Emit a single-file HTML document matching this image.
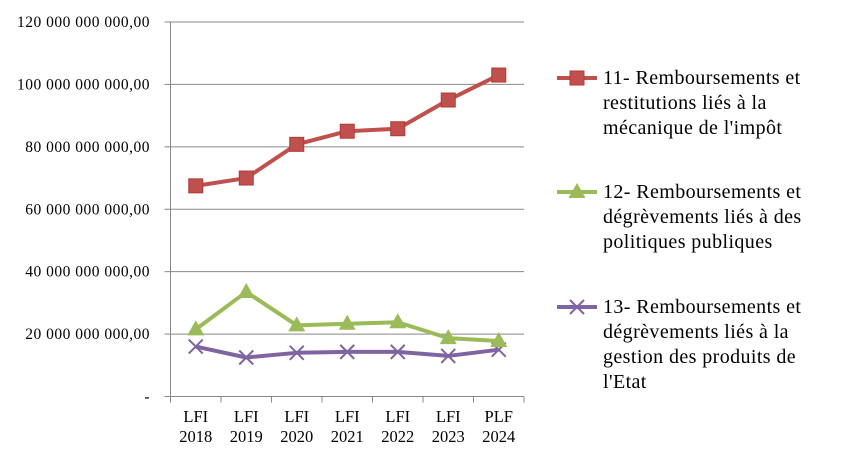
<!DOCTYPE html>
<html><head><meta charset="utf-8"><style>
body{margin:0;background:#fff;}
svg{display:block;font-family:"Liberation Serif",serif;}
</style></head><body>
<svg id="chart" width="842" height="462"></svg>
<script>
const categories=[["LFI","2018"],["LFI","2019"],["LFI","2020"],["LFI","2021"],["LFI","2022"],["LFI","2023"],["PLF","2024"]];
const series11=[67.5,70,80.8,85,85.8,95,103];
const series12=[21.5,33.5,22.8,23.3,23.8,18.7,17.8];
const series13=[16,12.5,14,14.3,14.3,13,15];
const yTicks=[0,20,40,60,80,100,120];
const yTickLabels=["-","20 000 000 000,00","40 000 000 000,00","60 000 000 000,00","80 000 000 000,00","100 000 000 000,00","120 000 000 000,00"];
const legendLabels=[["11- Remboursements et","restitutions liés à la","mécanique de l'impôt"],["12- Remboursements et","dégrèvements liés à des","politiques publiques"],["13- Remboursements et","dégrèvements liés à la","gestion des produits de","l'Etat"]];
const NS="http://www.w3.org/2000/svg",svg=document.getElementById('chart');
const x0=170.5,x1=524,yTop=22,yBot=396.5,bw=(x1-x0)/categories.length;
const X=i=>x0+bw*(i+0.5), Y=v=>yBot-(v/120)*(yBot-yTop);
function el(t,a,p){const e=document.createElementNS(NS,t);for(const k in a)e.setAttribute(k,a[k]);(p||svg).appendChild(e);return e;}
yTicks.forEach((v,i)=>{
 if(v>0){const g=el('line',{x1:x0,x2:x1,y1:Y(v),y2:Y(v),stroke:'#888','stroke-width':1});
 
 }
 const tk=el('line',{x1:x0-6,x2:x0,y1:Y(v),y2:Y(v),stroke:'#888'});
 
 
 const t=el('text',{x:150,y:Y(v)+5,'text-anchor':'end','font-size':15.5,'letter-spacing':0.5,fill:'#000'});
 t.textContent=yTickLabels[i];
 
 
});
const ax=el('line',{x1:x0,x2:x0,y1:yTop,y2:yBot,stroke:'#888'});


const bx=el('line',{x1:x0,x2:x1,y1:yBot,y2:yBot,stroke:'#888'});


for(let i=0;i<=categories.length;i++){const t=el('line',{x1:x0+bw*i,x2:x0+bw*i,y1:yBot,y2:yBot+6,stroke:'#888'});
 
 }
categories.forEach((c,i)=>{c.forEach((s,j)=>{const t=el('text',{x:X(i),y:422+j*20,'text-anchor':'middle','font-size':16.5,fill:'#000'});t.textContent=s;
 
 });});
function marker(type,cx,cy,col,g){
 if(type==='sq') return el('rect',{x:cx-7,y:cy-7,width:14,height:14,fill:col,stroke:'#b03a37','stroke-width':1},g);
 if(type==='tri') return el('polygon',{points:`${cx},${cy-9} ${cx+8.5},${cy+6} ${cx-8.5},${cy+6}`,fill:col},g);
 return el('path',{d:`M${cx-7} ${cy-7}L${cx+7} ${cy+7}M${cx-7} ${cy+7}L${cx+7} ${cy-7}`,stroke:col,'stroke-width':2,fill:'none'},g);
}
const defs=[[series11,'#c0504d','sq','series-11'],[series12,'#9bbb59','tri','series-12'],[series13,'#8064a2','x','series-13']];
defs.slice().reverse().forEach(([d,col,m,n])=>{
 const g=el('g',{});
 
 
 el('polyline',{points:d.map((v,i)=>X(i)+','+Y(v)).join(' '),fill:'none',stroke:col,'stroke-width':4,'stroke-linejoin':'round'},g);
 d.forEach((v,i)=>{const mk=marker(m,X(i),Y(v),col,g);
 
 });
});
const legY=[78,192,307];
defs.forEach(([d,col,m,n],k)=>{
 const g=el('g',{});
 
 
 el('line',{x1:557,x2:597,y1:legY[k],y2:legY[k],stroke:col,'stroke-width':4},g);
 marker(m,577,legY[k],col,g);
 legendLabels[k].forEach((s,j)=>{const t=el('text',{x:603,y:legY[k]+6+j*25,'font-size':20,'letter-spacing':0.4,fill:'#000'},g);t.textContent=s;});
});
</script>
</body></html>
